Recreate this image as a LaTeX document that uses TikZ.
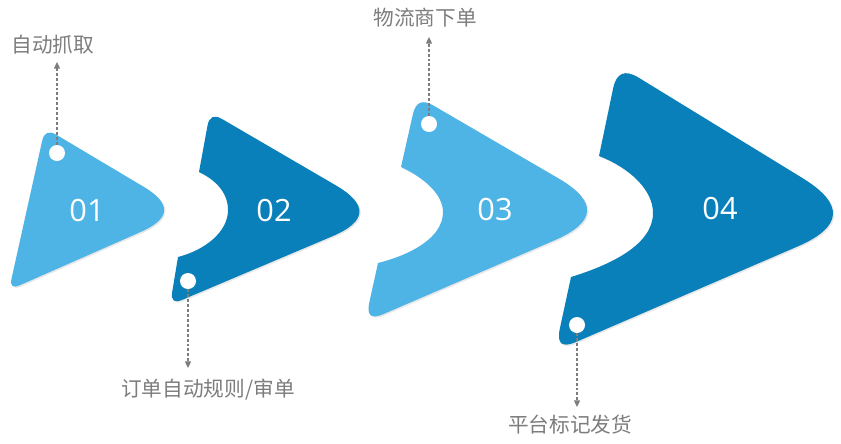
\documentclass[tikz,border=0pt]{standalone}
\usepackage{fontspec}
\newfontfamily\cjk{Noto Sans CJK SC}
\newfontfamily\numfont{Open Sans}
\usetikzlibrary{calc,arrows.meta,shadows}
\definecolor{lightblue}{RGB}{78,180,230}
\definecolor{darkblue}{RGB}{9,128,186}
\definecolor{labelgray}{RGB}{125,125,125}
% rounded corner at #1, coming from #2, leaving to #3
\newcommand{\corner}[4]{($(#1)!#4!(#2)$) .. controls ($(#1)!#4/3!(#2)$) and ($(#1)!#4/3!(#3)$) .. ($(#1)!#4!(#3)$)}
\tikzset{
  num/.style={text=white,font=\numfont\fontsize{23}{23}\selectfont},
  lbl/.style={text=labelgray,font=\cjk\fontsize{15.5}{16}\selectfont,inner sep=0pt},
  dot/.style={circle,fill=white,minimum size=12pt,inner sep=0pt},
  lead/.style={draw=labelgray,line width=0.9pt,dash pattern=on 2.2pt off 1.5pt,-{Triangle[length=5pt,width=4.5pt]}},
  tag/.style={drop shadow={opacity=0.18,shadow xshift=1pt,shadow yshift=-1pt}}
}
\begin{document}
\begin{tikzpicture}[x=0.75pt,y=-0.75pt]
            \useasboundingbox[fill=white] (0,0) rectangle (841,443);
            % corners of the four tags
            \coordinate (t1) at (45,128); \coordinate (b1) at (9,290); \coordinate (r1) at (186,212);
            \coordinate (t2) at (210,112); \coordinate (b2) at (170,305); \coordinate (r2) at (385,214);
            \coordinate (up2) at (199,172); \coordinate (mid2) at (228,210); \coordinate (lo2) at (178,257);
            \coordinate (t3) at (417,96); \coordinate (b3) at (365,322); \coordinate (r3) at (618,213);
            \coordinate (up3) at (401,167); \coordinate (mid3) at (443,212); \coordinate (lo3) at (378,263);
            \coordinate (t4) at (618,65); \coordinate (b4) at (555,351); \coordinate (r4) at (866,217);
            \coordinate (up4) at (599,156); \coordinate (mid4) at (653,213); \coordinate (lo4) at (571,277);
            % tags
            \fill[lightblue,tag] ($(t1)!10pt!(r1)$) -- \corner{r1}{t1}{b1}{37pt} -- \corner{b1}{r1}{t1}{9pt} -- \corner{t1}{b1}{r1}{10pt} -- cycle;
            \fill[darkblue,tag] ($(t2)!10.5pt!(r2)$) -- \corner{r2}{t2}{b2}{43pt} -- \corner{b2}{r2}{lo2}{10pt} -- (lo2) .. controls (205,250) and (228,232) .. (mid2) .. controls (228,193) and (216,180) .. (up2) -- \corner{t2}{up2}{r2}{10.5pt} -- cycle;
            \fill[lightblue,tag] ($(t3)!14pt!(r3)$) -- \corner{r3}{t3}{b3}{52pt} -- \corner{b3}{r3}{lo3}{15pt} -- (lo3) .. controls (410,255) and (443,238) .. (mid3) .. controls (443,195) and (425,178) .. (up3) -- \corner{t3}{up3}{r3}{14pt} -- cycle;
            \fill[darkblue,tag] ($(t4)!18pt!(r4)$) -- \corner{r4}{t4}{b4}{56pt} -- \corner{b4}{r4}{lo4}{17pt} -- (lo4) .. controls (610,265) and (653,245) .. (mid4) .. controls (653,190) and (630,168) .. (up4) -- \corner{t4}{up4}{r4}{18pt} -- cycle;
            \node[num] (n1) at (87,211) {01};
            \node[num] (n2) at (274,211) {02};
            \node[num] (n3) at (495,210) {03};
            \node[num] (n4) at (720,209) {04};
            \node[dot] (d1) at (57,153) {};
            \node[dot] (d2) at (188,281) {};
            \node[dot] (d3) at (429,124) {};
            \node[dot] (d4) at (577,325) {};
            \node[lbl] (txt1) at (53,45) {自动抓取};
            \node[lbl] (txt2) at (208,390) {订单自动规则/审单};
            \node[lbl] (txt3) at (425,18) {物流商下单};
            \node[lbl] (txt4) at (570,425) {平台标记发货};
            \coordinate (e1) at (57,62); \coordinate (e2) at (188,368);
            \coordinate (e3) at (429,37); \coordinate (e4) at (577,407);
            \draw[lead] (d1) -- (e1);
            \draw[lead] (d2) -- (e2);
            \draw[lead] (d3) -- (e3);
            \draw[lead] (d4) -- (e4);
\end{tikzpicture}
\end{document}
